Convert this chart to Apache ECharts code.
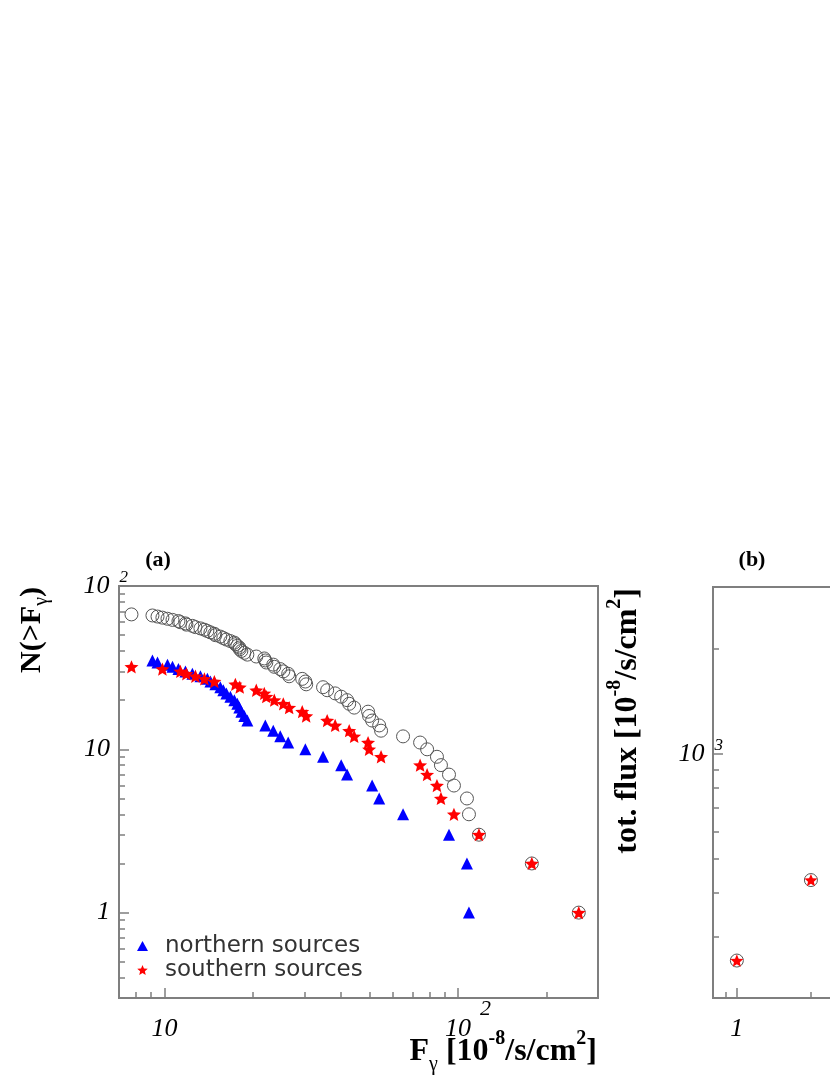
<!DOCTYPE html>
<html>
<head>
    <meta charset="UTF-8">
    <title>N(&gt;F) and total flux</title>
    <script src="https://cdn.jsdelivr.net/npm/echarts@6/dist/echarts.min.js"></script>
    <style>
        html, body { margin: 0; padding: 0; background: #fff; }
        #chart { width: 830px; height: 1075px; }
    </style>
</head>
<body>
    <div id="chart"></div>
    <script>
        // (a) all sources: flux and N(>F)
        var allFlux = [7.72, 9.10, 9.47, 9.84, 10.24, 10.65, 11.16, 11.33, 11.79, 11.88, 12.45, 12.75, 13.26, 13.68, 14.0, 14.34, 14.79, 14.91, 15.5, 15.87,
            16.25, 16.77, 17.30, 17.44, 17.71, 17.99, 18.05, 18.28, 18.71, 19.16, 20.55, 21.88, 22.06, 22.23, 23.48, 23.67, 24.8, 25.4, 26.4, 26.6,
            29.47, 30.2, 30.4, 34.7, 35.84, 38.16, 40.0, 41.9, 42.6, 44.3, 49.4, 49.8, 51.0, 53.9, 54.7, 65.0, 74.3, 78.5, 84.8, 87.5,
            93.2, 96.9, 107.3, 109.0, 117.9, 178.5, 258];
        var allCount = [67, 66, 65, 64, 63, 62, 61, 60, 59, 58, 57, 56, 55, 54, 53, 52, 51, 50, 49, 48,
            47, 46, 45, 44, 43, 42, 41, 40, 39, 38, 37, 36, 35, 34, 33, 32, 31, 30, 29, 28,
            27, 26, 25, 24, 23, 22, 21, 20, 19, 18, 17, 16, 15, 14, 13, 12, 11, 10, 9, 8,
            7, 6, 5, 4, 3, 2, 1];

        // northern sources
        var northFlux = [9.10, 9.47, 10.24, 10.65, 11.16, 11.79, 12.45, 13.26, 14.0, 14.34, 14.91, 15.5, 15.87, 16.25, 16.77, 17.30, 17.71, 17.99,
            18.28, 18.71, 19.16, 22.06, 23.48, 24.8, 26.4, 30.2, 34.7, 40.0, 41.9, 51.0, 53.9, 65.0, 93.2, 107.3, 109.0];
        var northCount = [35, 34, 33, 32, 31, 30, 29, 28, 27, 26, 25, 24, 23, 22, 21, 20, 19, 18,
            17, 16, 15, 14, 13, 12, 11, 10, 9, 8, 7, 6, 5, 4, 3, 2, 1];

        // southern sources
        var southFlux = [7.72, 9.84, 11.33, 11.88, 12.75, 13.68, 14.79, 17.44, 18.05, 20.55, 21.88, 22.23, 23.67, 25.4, 26.6, 29.47,
            30.4, 35.84, 38.16, 42.6, 44.3, 49.4, 49.8, 54.7, 74.3, 78.5, 84.8, 87.5, 96.9, 117.9, 178.5, 258];
        var southCount = [32, 31, 30, 29, 28, 27, 26, 25, 24, 23, 22, 21, 20, 19, 18, 17,
            16, 15, 14, 13, 12, 11, 10, 9, 8, 7, 6, 5, 4, 3, 2, 1];

        // (b) total flux vs number of sources
        var nSourcesB = [1, 2];
        var totFluxAll = [256, 435];
        var totFluxSouth = [256, 435];

        // tick positions
        var xMajorA = [10, 100];
        var xMinorA = [8, 9, 20, 30, 40, 50, 60, 70, 80, 90, 200];
        var yMajorA = [1, 10, 100];
        var yMinorA = [0.4, 0.5, 0.6, 0.7, 0.8, 0.9, 2, 3, 4, 5, 6, 7, 8, 9, 20, 30, 40, 50, 60, 70, 80, 90];
        var xMajorB = [1, 10];
        var xMinorB = [0.9, 2, 3, 4, 5, 6, 7, 8, 9, 20];
        var yMajorB = [1000];
        var yMinorB = [300, 400, 500, 600, 700, 800, 900, 2000];

        var serif = '"Liberation Serif", "DejaVu Serif", serif';
        var frame = '#7f7f7f';
        var starPath = 'path://M0,-10 L2.645,-3.64 L9.51,-3.09 L4.28,1.39 L5.88,8.09 L0,4.5 L-5.88,8.09 L-4.28,1.39 L-9.51,-3.09 L-2.645,-3.64 Z';

        function pairs(xs, ys) {
            return xs.map(function (x, i) { return [x, ys[i]]; });
        }
        function expOf(v) { return Math.round(Math.log(v) / Math.LN10); }
        function yLab(v) {
            var e = expOf(v);
            if (e <= 1) return '{n|' + (e === 0 ? '1' : '10') + '}{sp|}';
            return '{n|10}{g|}{s|' + e + '}';
        }
        function xLab(v) {
            var e = expOf(v);
            if (e <= 1) return '{sp|}{n|' + (e === 0 ? '1' : '10') + '}{sp|}';
            return '{sp|}{n|10}{g|}{s|' + e + '}';
        }
        var yRich = {
            n: { fontFamily: serif, fontStyle: 'italic', fontSize: 26, lineHeight: 34, color: '#000', verticalAlign: 'middle' },
            s: { fontFamily: serif, fontStyle: 'italic', fontSize: 17, lineHeight: 17, color: '#000', verticalAlign: 'top' },
            g: { width: 10, lineHeight: 34, verticalAlign: 'middle' },
            sp: { width: 18, lineHeight: 34, verticalAlign: 'middle' }
        };
        var xRich = {
            n: { fontFamily: serif, fontStyle: 'italic', fontSize: 26, lineHeight: 26, color: '#000', verticalAlign: 'bottom' },
            s: { fontFamily: serif, fontStyle: 'italic', fontSize: 22, lineHeight: 22, color: '#000', verticalAlign: 'top' },
            g: { width: 9, lineHeight: 22, verticalAlign: 'top' },
            sp: { width: 20, lineHeight: 44, verticalAlign: 'top' }
        };

        function logAxis(grid, min, max, pos, major, minor, labels, lab, rich, margin) {
            return [{
                type: 'log', gridIndex: grid, min: min, max: max, position: pos,
                axisLine: { show: true, lineStyle: { color: frame, width: 2 } },
                axisTick: { show: true, inside: true, length: 10, customValues: major, lineStyle: { color: frame, width: 1.5 } },
                axisLabel: { show: true, customValues: labels, formatter: lab, rich: rich, margin: margin },
                splitLine: { show: false }, minorTick: { show: false }
            }, {
                type: 'log', gridIndex: grid, min: min, max: max, position: pos,
                axisLine: { show: false },
                axisTick: { show: true, inside: true, length: 6, customValues: minor, lineStyle: { color: frame, width: 1.5 } },
                axisLabel: { show: false },
                splitLine: { show: false }, minorTick: { show: false }
            }];
        }

        var chart = echarts.init(document.getElementById('chart'), null, { renderer: 'canvas' });
        chart.setOption({
            animation: false,
            backgroundColor: '#fff',
            grid: [
                { left: 119, top: 586, width: 479, height: 412, show: true, borderColor: frame, borderWidth: 2, outerBoundsMode: 'none' },
                { left: 713, top: 587, width: 516, height: 411, show: true, borderColor: frame, borderWidth: 2, outerBoundsMode: 'none' }
            ],
            xAxis: [].concat(
                logAxis(0, 7, 300, 'bottom', xMajorA, xMinorA, xMajorA, xLab, xRich, 0),
                logAxis(1, 0.8, 100, 'bottom', xMajorB, xMinorB, xMajorB, xLab, xRich, 0)
            ),
            yAxis: [].concat(
                logAxis(0, 0.3, 100, 'left', yMajorA, yMinorA, yMajorA, yLab, yRich, -9),
                logAxis(1, 200, 3000, 'left', yMajorB, yMinorB, yMajorB, yLab, yRich, -10)
            ),
            legend: {
                data: [
                    { name: 'northern sources', icon: 'triangle' },
                    { name: 'southern sources', icon: starPath }
                ],
                orient: 'vertical', left: 137, top: 934, padding: 0,
                itemWidth: 11, itemHeight: 10, itemGap: 0, selectedMode: false,
                textStyle: { fontFamily: '"DejaVu Sans", sans-serif', fontSize: 23, lineHeight: 24, color: '#333', padding: [0, 0, 0, 12] }
            },
            series: [
                {
                    name: 'all sources', type: 'scatter', xAxisIndex: 0, yAxisIndex: 0, z: 2,
                    symbol: 'circle', symbolSize: 13,
                    itemStyle: { color: 'rgba(0,0,0,0)', borderColor: '#555', borderWidth: 1, opacity: 1 },
                    data: pairs(allFlux, allCount)
                },
                {
                    name: 'northern sources', type: 'scatter', xAxisIndex: 0, yAxisIndex: 0, z: 3,
                    symbol: 'triangle', symbolSize: [12, 12],
                    itemStyle: { color: '#0000ff', opacity: 1 },
                    data: pairs(northFlux, northCount)
                },
                {
                    name: 'southern sources', type: 'scatter', xAxisIndex: 0, yAxisIndex: 0, z: 4,
                    symbol: starPath, symbolSize: 14, symbolKeepAspect: true,
                    itemStyle: { color: '#ff0000', opacity: 1 },
                    data: pairs(southFlux, southCount)
                },
                {
                    name: 'total flux, all', type: 'scatter', xAxisIndex: 2, yAxisIndex: 2, z: 2,
                    symbol: 'circle', symbolSize: 13,
                    itemStyle: { color: 'rgba(0,0,0,0)', borderColor: '#555', borderWidth: 1, opacity: 1 },
                    data: pairs(nSourcesB, totFluxAll)
                },
                {
                    name: 'total flux, southern', type: 'scatter', xAxisIndex: 2, yAxisIndex: 2, z: 4,
                    symbol: starPath, symbolSize: 13, symbolKeepAspect: true,
                    itemStyle: { color: '#ff0000', opacity: 1 },
                    data: pairs(nSourcesB, totFluxSouth)
                }
            ],
            graphic: {
                elements: [
                    {
                        type: 'text', x: 158, y: 560, silent: true,
                        style: { text: '(a)', fontFamily: serif, fontWeight: 'bold', fontSize: 22, fill: '#000', align: 'center', verticalAlign: 'middle' }
                    },
                    {
                        type: 'text', x: 752, y: 560, silent: true,
                        style: { text: '(b)', fontFamily: serif, fontWeight: 'bold', fontSize: 22, fill: '#000', align: 'center', verticalAlign: 'middle' }
                    },
                    {
                        type: 'text', x: 32, y: 587, rotation: Math.PI / 2, silent: true,
                        style: {
                            text: '{b|N(>F}{g|γ}{b|)}', align: 'right', verticalAlign: 'middle', fill: '#000',
                            rich: {
                                b: { fontFamily: serif, fontWeight: 'bold', fontSize: 30, lineHeight: 40, fill: '#000', verticalAlign: 'middle' },
                                g: { fontFamily: serif, fontSize: 20, lineHeight: 20, fill: '#000', verticalAlign: 'bottom' }
                            }
                        }
                    },
                    {
                        type: 'text', x: 597, y: 1052, silent: true,
                        style: {
                            text: '{b|F}{g|γ}{b| [10}{s|-8}{b|/s/cm}{s|2}{b|]}', align: 'right', verticalAlign: 'middle', fill: '#000',
                            rich: {
                                b: { fontFamily: serif, fontWeight: 'bold', fontSize: 32, lineHeight: 46, fill: '#000', verticalAlign: 'middle' },
                                g: { fontFamily: serif, fontSize: 20, lineHeight: 20, fill: '#000', verticalAlign: 'bottom' },
                                s: { fontFamily: serif, fontWeight: 'bold', fontSize: 20, lineHeight: 20, fill: '#000', verticalAlign: 'top' }
                            }
                        }
                    },
                    {
                        type: 'text', x: 628, y: 588, rotation: Math.PI / 2, silent: true,
                        style: {
                            text: '{b|tot. flux [10}{s|-8}{b|/s/cm}{s|2}{b|]}', align: 'right', verticalAlign: 'middle', fill: '#000',
                            rich: {
                                b: { fontFamily: serif, fontWeight: 'bold', fontSize: 32, lineHeight: 46, fill: '#000', verticalAlign: 'middle' },
                                s: { fontFamily: serif, fontWeight: 'bold', fontSize: 20, lineHeight: 20, fill: '#000', verticalAlign: 'top' }
                            }
                        }
                    }
                ]
            }
        });
    </script>
</body>
</html>
